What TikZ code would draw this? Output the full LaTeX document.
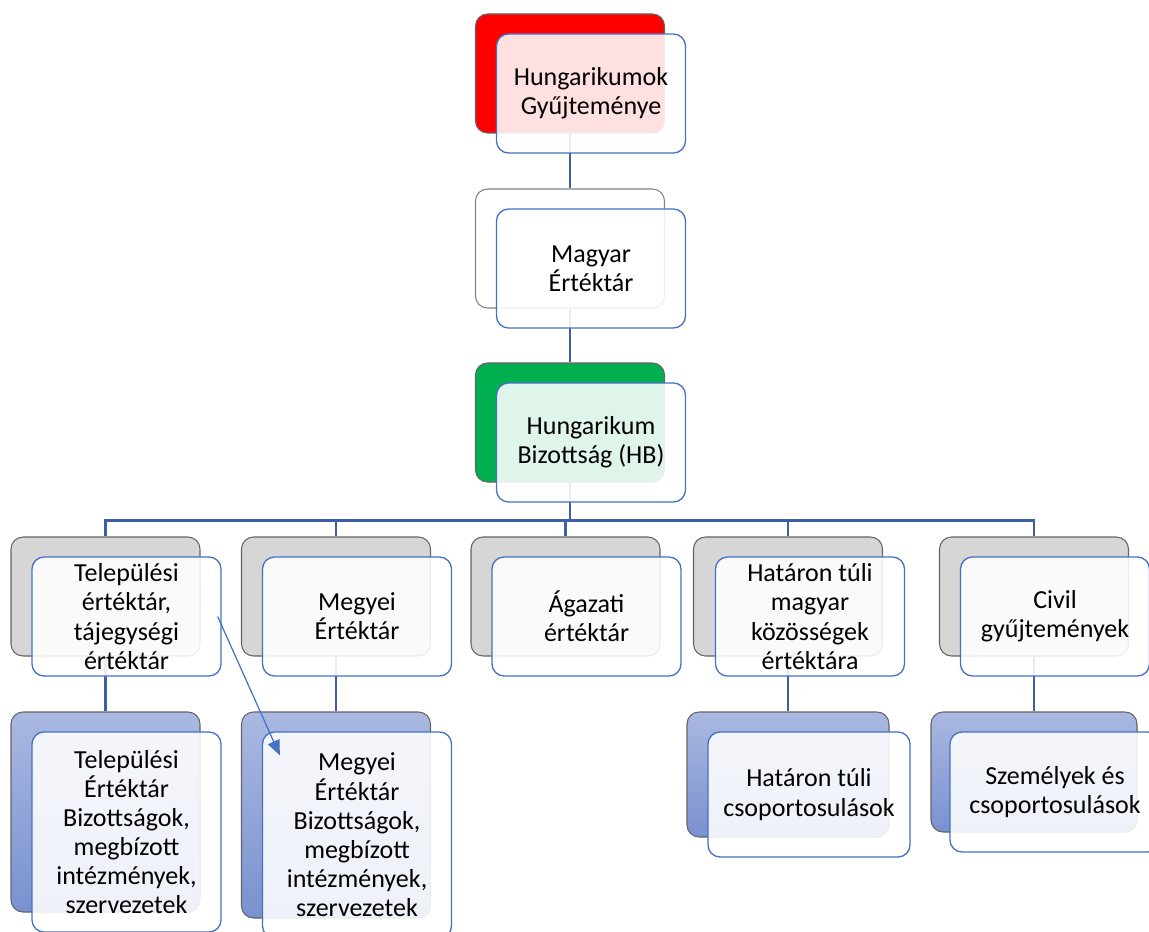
\documentclass[tikz,border=0pt]{standalone}
\usepackage{fontspec}
\setmainfont{Carlito}
\usepackage{tikz}
\usetikzlibrary{arrows.meta,positioning,backgrounds}
\definecolor{hkblue}{RGB}{68,114,196}
\definecolor{hkline}{RGB}{60,96,168}
\definecolor{hkred}{RGB}{255,0,0}
\definecolor{hkgreen}{RGB}{0,176,80}
\definecolor{hkgray}{RGB}{214,214,214}
\definecolor{hkedge}{RGB}{100,100,100}
\definecolor{hkpale}{RGB}{130,130,130}
\definecolor{hktop}{RGB}{170,185,225}
\definecolor{hkbottom}{RGB}{122,145,208}
\tikzstyle{backbox} = [rectangle, rounded corners=0.24cm, minimum width=3.78cm, minimum height=2.38cm, draw=hkedge, line width=0.6pt]
\tikzstyle{deepbox} = [backbox, top color=hktop, bottom color=hkbottom]
\tikzstyle{frontbox} = [rectangle, rounded corners=0.24cm, minimum width=3.78cm, minimum height=2.38cm, inner sep=1pt, draw=hkblue, line width=0.75pt, fill=white, fill opacity=0.88, text opacity=1, align=center, font=\fontsize{14.8pt}{16.6pt}\selectfont]
\tikzstyle{conn} = [line width=1.4pt, color=hkline]
\tikzstyle{link} = [line width=0.7pt, color=hkblue, -{Triangle[length=0.3cm,width=0.25cm]}]

\begin{document}
\begin{tikzpicture}
    \useasboundingbox (0,0) rectangle (22.98,-18.62);

    % Top of the chain
    \node[backbox, fill=hkred] (hgy-bg) at (11.4,-1.47) {};
    \node[frontbox] (hgy) at ([xshift=0.42cm,yshift=-0.4cm]hgy-bg.center) {Hungarikumok\\Gyűjteménye};

    \node[backbox, draw=hkpale, fill=white] (mg-bg) at (11.4,-4.97) {};
    \node[frontbox] (mg) at ([xshift=0.42cm,yshift=-0.4cm]mg-bg.center) {Magyar\\Értéktár};

    \node[backbox, fill=hkgreen] (hb-bg) at (11.4,-8.45) {};
    \node[frontbox] (hb) at ([xshift=0.42cm,yshift=-0.4cm]hb-bg.center) {Hungarikum\\Bizottság (HB)};

    % Second row
    \node[backbox, fill=hkgray] (telep-bg) at (2.11,-11.93) {};
    \node[frontbox] (telep) at ([xshift=0.42cm,yshift=-0.4cm]telep-bg.center) {Települési\\értéktár,\\tájegységi\\értéktár};

    \node[backbox, fill=hkgray] (megyei-bg) at (6.72,-11.93) {};
    \node[frontbox] (megyei) at ([xshift=0.42cm,yshift=-0.4cm]megyei-bg.center) {Megyei\\Értéktár};

    \node[backbox, fill=hkgray] (agazati-bg) at (11.31,-11.93) {};
    \node[frontbox] (agazati) at ([xshift=0.42cm,yshift=-0.4cm]agazati-bg.center) {Ágazati\\értéktár};

    \node[backbox, fill=hkgray] (hatar-bg) at (15.76,-11.93) {};
    \node[frontbox] (hatar) at ([xshift=0.44cm,yshift=-0.4cm]hatar-bg.center) {Határon túli\\magyar\\közösségek\\értéktára};

    \node[backbox, fill=hkgray] (civil-bg) at (20.68,-11.93) {};
    \node[frontbox] (civil) at ([xshift=0.42cm,yshift=-0.4cm]civil-bg.center) {Civil\\gyűjtemények};

    % Third row
    \node[deepbox, minimum height=4cm] (telepbiz-bg) at (2.11,-16.24) {};
    \node[frontbox, minimum height=4cm] (telepbiz) at ([xshift=0.42cm,yshift=-0.4cm]telepbiz-bg.center) {Települési\\Értéktár\\Bizottságok,\\megbízott\\intézmények,\\szervezetek};

    \node[deepbox, minimum height=4.12cm] (megyeibiz-bg) at (6.72,-16.3) {};
    \node[frontbox, minimum height=4.12cm] (megyeibiz) at ([xshift=0.42cm,yshift=-0.4cm]megyeibiz-bg.center) {Megyei\\Értéktár\\Bizottságok,\\megbízott\\intézmények,\\szervezetek};

    \node[deepbox, minimum width=4.04cm, minimum height=2.5cm] (csop-bg) at (15.76,-15.49) {};
    \node[frontbox, minimum width=4.04cm, minimum height=2.5cm] (csop) at ([xshift=0.42cm,yshift=-0.4cm]csop-bg.center) {Határon túli\\csoportosulások};

    \node[deepbox, minimum width=4.12cm, minimum height=2.4cm] (szem-bg) at (20.68,-15.44) {};
    \node[frontbox, minimum width=4.2cm, minimum height=2.4cm] (szem) at ([xshift=0.42cm,yshift=-0.4cm]szem-bg.center) {Személyek és\\csoportosulások};

    % Lines behind the boxes
    \begin{scope}[on background layer]
        \draw[conn] (hgy-bg) -- (mg-bg);
        \draw[conn] (mg-bg) -- (hb-bg);
        \foreach \n in {telep,megyei,agazati,hatar,civil}
            \draw[conn] (hb-bg.south) -- ++(0,-0.76) -| (\n-bg.north);
        \draw[conn] (telep-bg) -- (telepbiz-bg);
        \draw[conn] (megyei-bg) -- (megyeibiz-bg);
        \draw[conn] (hatar-bg) -- (csop-bg);
        \draw[conn] (civil-bg) -- (szem-bg);
    \end{scope}

    % Arrow
    \draw[link] ([xshift=-0.08cm]telep.east) -- ([xshift=0.36cm,yshift=-0.48cm]megyeibiz.north west);
\end{tikzpicture}
\end{document}
